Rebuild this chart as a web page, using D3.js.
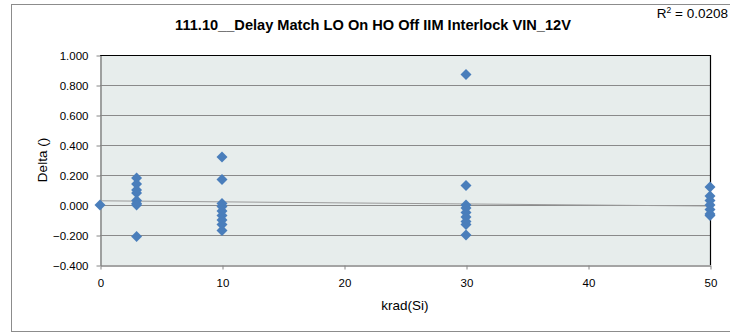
<!DOCTYPE html>
<html>
<head>
<meta charset="utf-8">
<script src="https://cdn.jsdelivr.net/npm/d3@7"></script>
<style>
  html, body { margin: 0; padding: 0; background: #fff; }
  svg { display: block; }
  text { font-family: "Liberation Sans", Arial, sans-serif; fill: #000; }
</style>
</head>
<body>
<svg id="chart" width="730" height="335"></svg>
<script>
// Measurement groups (krad(Si)) and the Delta readings taken at each one
const doseLevels = [0, 3, 10, 30, 50];
const deltaAt0  = [0.000];
const deltaAt3  = [0.18, 0.14, 0.10, 0.08, 0.03, 0.01, 0.00, -0.21];
const deltaAt10 = [0.32, 0.17, 0.01, -0.01, -0.04, -0.07, -0.10, -0.13, -0.17];
const deltaAt30 = [0.87, 0.13, 0.00, -0.02, -0.05, -0.08, -0.11, -0.13, -0.20];
const deltaAt50 = [0.12, 0.06, 0.03, 0.00, -0.03, -0.06, -0.07];
const deltaGroups = [deltaAt0, deltaAt3, deltaAt10, deltaAt30, deltaAt50];

// Linear trend line end points and its fit statistic
const trendX = [0, 50];
const trendY = [0.028, -0.007];
const rSquaredLabel = "0.0208";

const xTicks = [0, 10, 20, 30, 40, 50];
const yTicks = [-0.4, -0.2, 0, 0.2, 0.4, 0.6, 0.8, 1.0];

const titleText = "111.10__Delay Match LO On HO Off IIM Interlock VIN_12V";
const xTitle = "krad(Si)";
const yTitle = "Delta ()";

const points = [];
doseLevels.forEach((d, i) => deltaGroups[i].forEach(v => points.push({ x: d, y: v })));

const svg = d3.select("#chart");
const plot = { left: 100, top: 55, right: 710, bottom: 265 };

const x = d3.scaleLinear().domain([0, 50]).range([plot.left, plot.right]);
const y = d3.scaleLinear().domain([-0.4, 1.0]).range([plot.bottom, plot.top]);

// Outer chart frame
svg.append("rect")
  .attr("x", 11.5).attr("y", 4.5)
  .attr("width", 740).attr("height", 327)
  .attr("fill", "#fff").attr("stroke", "#8c8c8c").attr("stroke-width", 1);

// Plot area background
svg.append("rect")
  .attr("x", plot.left).attr("y", plot.top)
  .attr("width", plot.right - plot.left).attr("height", plot.bottom - plot.top)
  .attr("fill", "#e7edec");

// Horizontal gridlines
svg.append("g")
  .selectAll("line")
  .data(yTicks.filter(t => t > -0.4 && t < 1.0))
  .join("line")
  .attr("x1", plot.left).attr("x2", plot.right)
  .attr("y1", d => Math.round(y(d)) + 0.5).attr("y2", d => Math.round(y(d)) + 0.5)
  .attr("stroke", "#8a8a8a").attr("stroke-width", 1);

// Plot area border: dark top and right edges
svg.append("path")
  .attr("d", `M${plot.left},${plot.top + 0.5}H${plot.right + 0.5}V${plot.bottom}`)
  .attr("fill", "none").attr("stroke", "#000").attr("stroke-width", 1.2);

const tickFont = '"Liberation Sans", Arial, sans-serif';

// Y axis
const yAxis = d3.axisLeft(y)
  .tickValues(yTicks)
  .tickFormat(d3.format(".3f"))
  .tickSizeInner(4).tickSizeOuter(0).tickPadding(8);
const gy = svg.append("g")
  .attr("transform", `translate(${plot.left + 0.5},0.5)`)
  .call(yAxis);
gy.select(".domain").attr("stroke", "#868686").attr("stroke-width", 1.5);
gy.selectAll(".tick line").attr("stroke", "#868686");
gy.selectAll(".tick text").attr("font-size", 11.5).attr("fill", "#000")
  .style("font-family", tickFont);

// X axis
const xAxis = d3.axisBottom(x)
  .tickValues(xTicks)
  .tickFormat(d3.format("d"))
  .tickSizeInner(4).tickSizeOuter(0).tickPadding(9);
const gx = svg.append("g")
  .attr("transform", `translate(0.5,${plot.bottom + 0.5})`)
  .call(xAxis);
gx.select(".domain").attr("stroke", "#868686").attr("stroke-width", 1.5);
gx.selectAll(".tick line").attr("stroke", "#868686");
gx.selectAll(".tick text").attr("font-size", 11.5).attr("fill", "#000")
  .style("font-family", tickFont);

// Trend line
svg.append("line")
  .attr("x1", x(trendX[0])).attr("y1", y(trendY[0]))
  .attr("x2", x(trendX[1])).attr("y2", y(trendY[1]))
  .attr("stroke", "#9a9a9a").attr("stroke-width", 1);

// Data markers (diamonds: squares turned by 45 degrees)
svg.append("g")
  .selectAll("path")
  .data(points)
  .join("path")
  .attr("transform", d => `translate(${x(d.x)},${y(d.y)}) rotate(45)`)
  .attr("d", d3.symbol().type(d3.symbolSquare).size(60))
  .attr("fill", "#4a7ebb");

// Titles
svg.append("text")
  .attr("x", 373).attr("y", 30)
  .attr("text-anchor", "middle")
  .attr("font-size", 14.6).attr("font-weight", "bold")
  .text(titleText);

svg.append("text")
  .attr("x", 728).attr("y", 18)
  .attr("text-anchor", "end")
  .attr("font-size", 13.5)
  .html(`R<tspan baseline-shift="super" font-size="8.5">2</tspan> = ${rSquaredLabel}`);

svg.append("text")
  .attr("x", (plot.left + plot.right) / 2).attr("y", 310)
  .attr("text-anchor", "middle")
  .attr("font-size", 13.5)
  .text(xTitle);

svg.append("text")
  .attr("transform", `translate(47,${(plot.top + plot.bottom) / 2}) rotate(-90)`)
  .attr("text-anchor", "middle")
  .attr("font-size", 13.5)
  .text(yTitle);
</script>
</body>
</html>
